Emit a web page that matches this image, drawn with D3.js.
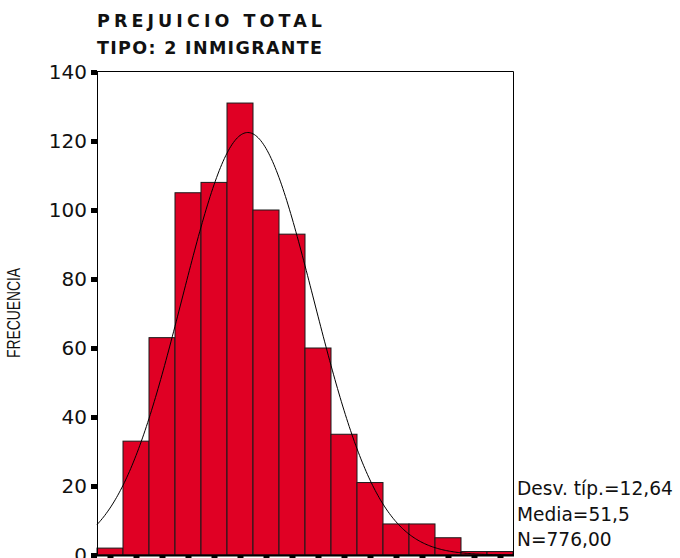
<!DOCTYPE html>
<html>
<head>
<meta charset="utf-8">
<script src="https://cdn.jsdelivr.net/npm/d3@7/dist/d3.min.js"></script>
<style>
  html, body { margin: 0; padding: 0; background: #fff; }
  svg { display: block; }
</style>
</head>
<body>
<svg id="chart" width="680" height="558"></svg>
<script>
// Histogram of PREJUICIO TOTAL (TIPO: 2 INMIGRANTE), bins of width 5
const binCenters = [25, 30, 35, 40, 45, 50, 55, 60, 65, 70, 75, 80, 85, 90, 95, 100];
const binCounts  = [2, 33, 63, 105, 108, 131, 100, 93, 60, 35, 21, 9, 9, 5, 1, 1];
const binWidth = 5;
const yTicks = [0, 20, 40, 60, 80, 100, 120, 140];
const titleLines = ["PREJUICIO TOTAL", "TIPO: 2 INMIGRANTE"];
const statsLines = ["Desv. típ.=12,64", "Media=51,5", "N=776,00"];
const stdDev = 12.64;
const mean = 51.5;
const nCases = 776;

const svg = d3.select("#chart");
const plot = { left: 97, right: 513, top: 71, bottom: 555 };

const x = d3.scaleLinear()
  .domain([binCenters[0] - binWidth / 2, binCenters[binCenters.length - 1] + binWidth / 2])
  .range([plot.left, plot.right]);
const y = d3.scaleLinear().domain([0, 140]).range([plot.bottom, 72]);

// Bars
svg.append("g").selectAll("rect")
  .data(binCenters.map((c, i) => ({ c, n: binCounts[i] })))
  .join("rect")
  .attr("x", d => x(d.c - binWidth / 2))
  .attr("width", d => x(d.c + binWidth / 2) - x(d.c - binWidth / 2))
  .attr("y", d => y(d.n))
  .attr("height", d => y(0) - y(d.n))
  .attr("fill", "#e00024")
  .attr("stroke", "#1a1a1a")
  .attr("stroke-width", 1);

// Normal curve scaled to counts per bin
const xs = d3.range(x.domain()[0], x.domain()[1] + 0.01, 0.25);
const normal = v => nCases * binWidth / (stdDev * Math.sqrt(2 * Math.PI)) *
  Math.exp(-0.5 * Math.pow((v - mean) / stdDev, 2));
svg.append("path")
  .datum(xs)
  .attr("fill", "none")
  .attr("stroke", "#000")
  .attr("stroke-width", 1)
  .attr("d", d3.line().x(v => x(v)).y(v => y(normal(v))));

// Frame (top and right)
svg.append("path")
  .attr("d", `M${plot.left},${plot.top}.5H${plot.right + 0.5}V${plot.bottom}`)
  .attr("fill", "none")
  .attr("stroke", "#000")
  .attr("stroke-width", 1);

// Y axis
const yAxis = svg.append("g")
  .attr("transform", `translate(${plot.left},0)`)
  .call(d3.axisLeft(y).tickValues(yTicks).tickSize(6).tickPadding(4));
yAxis.select(".domain").attr("stroke", "#000").attr("d", `M0.5,${plot.top}V${plot.bottom}`);
yAxis.selectAll(".tick line").attr("stroke", "#000").attr("stroke-width", 5);
yAxis.selectAll(".tick text")
  .attr("font-family", "DejaVu Sans, Verdana, sans-serif")
  .attr("font-size", 20)
  .attr("fill", "#111");

// X axis: tick marks at bin centres
const xAxis = svg.append("g")
  .attr("transform", `translate(0,${plot.bottom})`)
  .call(d3.axisBottom(x).tickValues(binCenters).tickSize(5).tickFormat(""));
xAxis.select(".domain").attr("stroke", "#000").attr("stroke-width", 2)
  .attr("d", `M${plot.left - 5},0.5H${plot.right + 1}`);
xAxis.selectAll(".tick line").attr("stroke", "#000").attr("stroke-width", 6);

// Axis title
svg.append("text")
  .attr("transform", "translate(19.5,313) rotate(-90)")
  .attr("text-anchor", "middle")
  .attr("font-family", "Liberation Sans, Arial, sans-serif")
  .attr("font-size", 18)
  .attr("textLength", 90)
  .attr("lengthAdjust", "spacingAndGlyphs")
  .attr("fill", "#111")
  .text("FRECUENCIA");

// Title
svg.append("g").selectAll("text")
  .data(titleLines)
  .join("text")
  .attr("x", 97)
  .attr("y", (d, i) => 27 + i * 27)
  .attr("textLength", 225)
  .attr("lengthAdjust", "spacing")
  .attr("font-family", "DejaVu Sans, Verdana, sans-serif")
  .attr("font-weight", "bold")
  .attr("font-size", 17.5)
  .attr("fill", "#111")
  .text(d => d);

// Summary statistics
svg.append("g").selectAll("text")
  .data(statsLines)
  .join("text")
  .attr("x", 517)
  .attr("y", (d, i) => 495 + i * 25.5)
  .attr("font-family", "DejaVu Sans, Verdana, sans-serif")
  .attr("font-size", 18.6)
  .attr("fill", "#111")
  .text(d => d);
</script>
</body>
</html>
